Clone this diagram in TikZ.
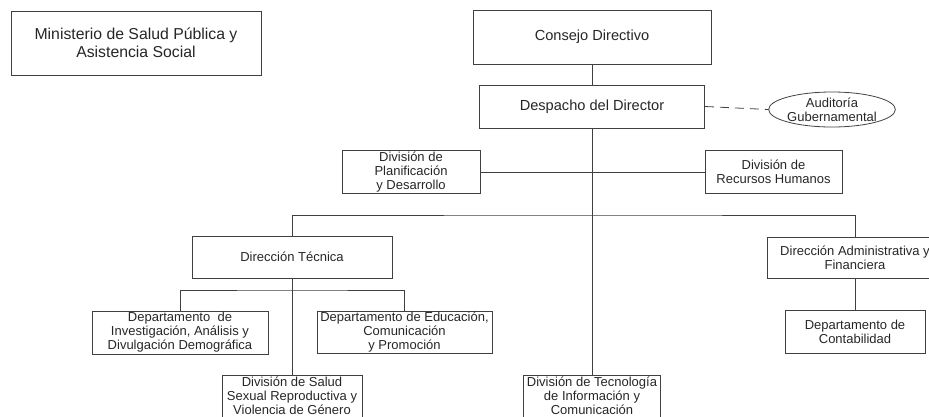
\documentclass[tikz,border=0pt]{standalone}
\usepackage{fontspec}
\setmainfont{Liberation Sans}
\usetikzlibrary{shapes.geometric}

\begin{document}
\begin{tikzpicture}[x=1pt, y=-1pt,
  unit/.style={draw=black!75, line width=0.8pt, rectangle, align=center,
    inner sep=0pt, text=black!85, font=\fontsize{13}{14}\selectfont},
  link/.style={draw=black!75, line width=0.8pt}]
  \useasboundingbox (0,0) rectangle (929,416);
  % upper part
  \node[unit, minimum width=250pt, minimum height=64pt,
    font=\fontsize{15.8}{17.7}\selectfont] (ministerio) at (136,43)
    {Ministerio de Salud Pública y\\Asistencia Social};
  \node[unit, minimum width=238pt, minimum height=54pt,
    font=\fontsize{14.6}{16}\selectfont] (consejo) at (592,37) {Consejo Directivo};
  \node[unit, minimum width=225pt, minimum height=43pt,
    font=\fontsize{14.6}{16}\selectfont] (despacho) at (592,106.5) {Despacho del Director};
  \node[draw=black!75, line width=0.8pt, ellipse, minimum width=107pt, minimum height=35pt,
    inner sep=0pt, align=center, text=black!85,
    font=\fontsize{13}{14}\selectfont] (auditoria) at (832,109.5) {Auditoría\\Gubernamental};
  \node[unit, minimum width=138pt, minimum height=43pt] (planif) at (411,172)
    {División de\\Planificación\\y Desarrollo};
  \node[unit, minimum width=137pt, minimum height=43pt] (rrhh) at (773.5,172)
    {División de\\Recursos Humanos};
  % lower part
  \node[unit, minimum width=200pt, minimum height=42pt] (dtecnica) at (292,257) {Dirección Técnica};
  \node[unit, minimum width=176pt, minimum height=41pt] (dadmin) at (855,257.5)
    {Dirección Administrativa y\\Financiera};
  \node[unit, minimum width=176pt, minimum height=43pt] (invest) at (180,332.5)
    {Departamento~ de\\Investigación, Análisis y\\Divulgación Demográfica};
  \node[unit, minimum width=175pt, minimum height=42pt] (educ) at (404.5,332)
    {Departamento de Educación,\\Comunicación\\y Promoción};
  \node[unit, minimum width=140pt, minimum height=42pt] (salud) at (292,396)
    {División de Salud\\Sexual Reproductiva y\\Violencia de Género};
  \node[unit, minimum width=137pt, minimum height=42pt] (tecno) at (592,396)
    {División de Tecnología\\de Información y\\Comunicación};
  \node[unit, minimum width=140pt, minimum height=43pt] (contab) at (855,331.5)
    {Departamento de\\Contabilidad};
  \coordinate (mbus) at (592,215);
  \coordinate (tbus) at (292,290);
  % connectors
  \draw[link] (consejo.south) -- (despacho.north);
  \draw[link, dash pattern=on 9pt off 6pt] (despacho.east) -- (auditoria.west);
  \draw[link] (despacho.south) -- (tecno.north);
  \draw[link] (planif.east) -- (rrhh.west);
  \draw[link] (dtecnica.north) |- (mbus) -| (dadmin.north);
  \draw[link] (dtecnica.south) -- (salud.north);
  \draw[link] (invest.north) |- (tbus) -| (educ.north);
  \draw[link] (dadmin.south) -- (contab.north);
\end{tikzpicture}
\end{document}
